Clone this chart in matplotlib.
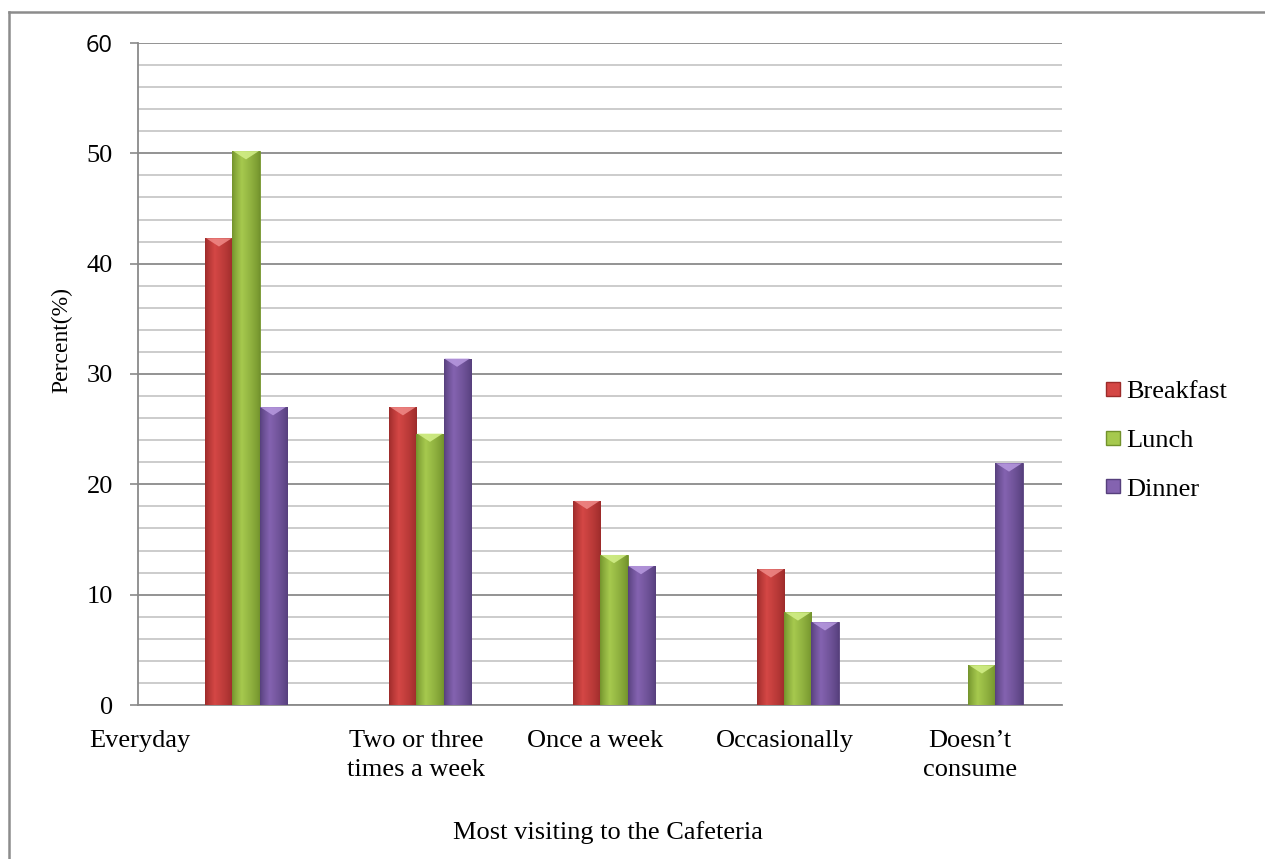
import numpy as np
import matplotlib
matplotlib.use("Agg")
import matplotlib.pyplot as plt
from matplotlib.colors import to_rgb
from matplotlib.patches import Polygon
from matplotlib.lines import Line2D

plt.rcParams['font.family'] = ['Liberation Serif', 'DejaVu Serif']

# --- data ---
categories = ["Everyday", "Two or three\ntimes a week", "Once a week", "Occasionally", "Doesn\u2019t\nconsume"]
series_names = ["Breakfast", "Lunch", "Dinner"]
breakfast = [42.3, 27.0, 18.5, 12.3, 0.0]
lunch = [50.2, 24.6, 13.6, 8.4, 3.6]
dinner = [27.0, 31.4, 12.6, 7.5, 21.9]
series_values = [breakfast, lunch, dinner]

# base colours: (edge dark, centre light, top facet)
palette = {
    "Breakfast": ("#9c2b2a", "#d44745", "#f08a88"),
    "Lunch": ("#72922c", "#a6c94e", "#d4f08a"),
    "Dinner": ("#563f7c", "#8463b0", "#b89ae0"),
}

W, H = 1265, 859
fig = plt.figure(figsize=(W / 100, H / 100), dpi=100)
ax = fig.add_axes([138 / W, 1 - 705 / H, (1062 - 138) / W, (705 - 43) / H])

bar_w = 0.147
x = np.arange(len(categories))


def gradient_img(name):
    dark, light, _ = (np.array(to_rgb(c)) for c in palette[name])
    t = np.linspace(0, 1, 64)
    # light peak at ~35% across the bar, dark at both edges
    w = np.where(t < 0.35, t / 0.35, 1 - (t - 0.35) / 0.65)
    w = np.clip(w, 0, 1) ** 0.8
    rgb = dark[None, :] * (1 - w[:, None]) + light[None, :] * w[:, None]
    return rgb[None, :, :]


for i, (name, vals) in enumerate(zip(series_names, series_values)):
    offs = (i - 1) * bar_w
    img = gradient_img(name)
    top_col = palette[name][2]
    bars = ax.bar(x + offs, vals, width=bar_w, color=palette[name][1],
                  edgecolor=palette[name][0], linewidth=0.6, zorder=3, label=name)
    for b, v in zip(bars, vals):
        if v <= 0:
            continue
        x0 = b.get_x()
        x1 = x0 + b.get_width()
        im = ax.imshow(img, extent=(x0, x1, 0, v), aspect='auto', zorder=3.5,
                       interpolation='bilinear')
        im.set_clip_path(b)
        d = min(0.75, v * 0.4)
        tri = Polygon([(x0 + 0.004, v), (x1 - 0.004, v), ((x0 + x1) / 2, v - d)],
                      closed=True, facecolor=top_col, edgecolor='none', alpha=0.85, zorder=4)
        ax.add_patch(tri)

ax.set_xlim(-0.587, 4.435)
ax.set_ylim(0, 60)

# gridlines
ax.set_yticks(np.arange(0, 61, 10))
ax.set_yticks(np.arange(0, 61, 2), minor=True)
ax.grid(which='major', axis='y', color='#8a8a8a', linewidth=1.3, zorder=0)
ax.grid(which='minor', axis='y', color='#c4c4c4', linewidth=1.2, zorder=0)
ax.set_axisbelow(True)
ax.tick_params(axis='y', which='major', length=6, width=1.2, color='#8a8a8a',
               labelsize=19, pad=12)
ax.tick_params(axis='y', which='minor', length=0)
ax.tick_params(axis='x', length=0)
ax.set_xticks([])
for s in ['top', 'right']:
    ax.spines[s].set_visible(False)
for s in ['left', 'bottom']:
    ax.spines[s].set_color('#8a8a8a')
    ax.spines[s].set_linewidth(1.3)
labels = ax.get_yticklabels()
labels[-1].set_family(['Open Sans', 'DejaVu Sans'])
labels[-1].set_fontsize(17)

# category labels (placed as in the original)
label_shift = [-0.576, -0.076, -0.1, -0.07, -0.065]
for xi, lab, sh in zip(x, categories, label_shift):
    ax.text(xi + sh, -2.3, lab, ha='center', va='top', fontsize=19,
            linespacing=1.38, transform=ax.transData, clip_on=False)

fig.text(608 / W, 1 - 833 / H, "Most visiting to the Cafeteria", ha='center', va='center',
         fontsize=19)
fig.text(62 / W, 1 - 340 / H, "Percent(%)", ha='center', va='center', rotation=90,
         fontsize=17)

# legend
handles = [Line2D([0], [0], marker='s', linestyle='none', markersize=10,
                  markerfacecolor=palette[n][1], markeredgecolor=palette[n][0])
           for n in series_names]
fig.legend(handles, series_names, loc='upper left', bbox_to_anchor=(1106 / W, 1 - 380 / H),
           frameon=False, fontsize=19, handlelength=0.55, handletextpad=0.2,
           labelspacing=0.95, borderpad=0, borderaxespad=0)

# outer frame (left and top edges visible)
fig.add_artist(Line2D([9 / W, 9 / W], [0, 1 - 12 / H], transform=fig.transFigure,
                      color='#8c8c8c', linewidth=1.8))
fig.add_artist(Line2D([9 / W, 1], [1 - 12 / H, 1 - 12 / H], transform=fig.transFigure,
                      color='#8c8c8c', linewidth=1.8))

fig.savefig("out.png", dpi=100)
